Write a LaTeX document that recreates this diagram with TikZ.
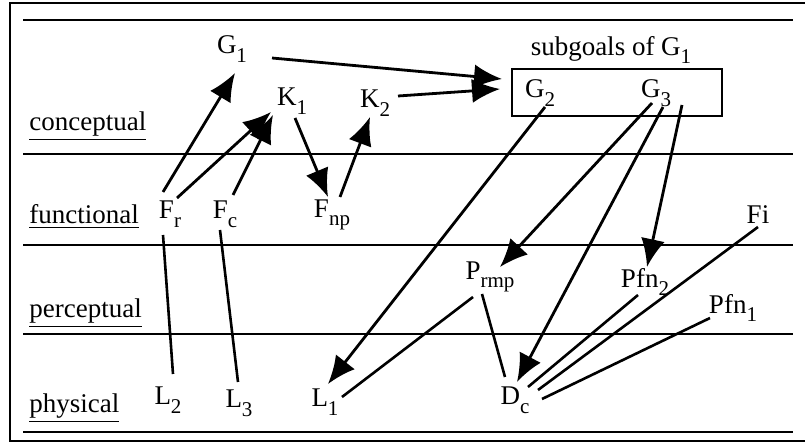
\documentclass[tikz,border=0pt]{standalone}
\usepackage{fontspec}
\setmainfont{Liberation Serif}
\usetikzlibrary{arrows.meta,calc}
\newcommand\sbs[1]{\raisebox{-0.32em}{\fontsize{10.5}{11}\selectfont #1}}
\tikzset{
  lbl/.style={font=\fontsize{13.5}{15}\selectfont, inner sep=0pt},
  lev/.style={font=\fontsize{13.5}{15}\selectfont, inner sep=0pt, anchor=base west},
  rule/.style={line width=1.2pt},
  arr/.style={line width=1.4pt, -{Latex[length=14pt,width=12pt]}},
  ln/.style={line width=1.3pt},
  goalbox/.style={draw, line width=1.3pt, minimum width=105pt, minimum height=23.5pt, inner sep=0pt}
}
\begin{document}
\begin{tikzpicture}[x=0.5pt,y=-0.5pt]
\useasboundingbox (0,0) rectangle (805,444);
% frame
\draw[line width=1.3pt] (806,3) -- (10,3) -- (10,441) -- (806,441);
% level rules
\foreach \yy in {20,154,245,334,432}
  \draw[rule] (23,\yy) -- (793,\yy);
% level labels
\node[lev] (lc) at (29,131) {\underline{conceptual}};
\node[lev] (lf) at (29,224) {\underline{functional}};
\node[lev] (lp) at (29,318) {\underline{perceptual}};
\node[lev] (lh) at (29,413) {\underline{physical}};
% nodes
\node[lbl] (G1) at (232,49) {G\sbs{1}};
\node[lbl] (K1) at (292,101) {K\sbs{1}};
\node[lbl] (K2) at (375,103) {K\sbs{2}};
\node[lbl] (sg) at (611,50) {subgoals of G\sbs{1}};
\node[goalbox] (box) at (617,92.5) {};
\node[lbl] (G2) at (540,93) {G\sbs{2}};
\node[lbl] (G3) at (656,93) {G\sbs{3}};
\node[lbl] (Fr) at (170,214) {F\sbs{r}};
\node[lbl] (Fc) at (225,214) {F\sbs{c}};
\node[lbl] (Fnp) at (332,215) {F\sbs{np}};
\node[lbl] (Fi) at (758,215) {Fi};
\node[lbl] (Prmp) at (490,277) {P\sbs{rmp}};
\node[lbl] (Pfn2) at (645,282) {Pfn\sbs{2}};
\node[lbl] (Pfn1) at (733,308) {Pfn\sbs{1}};
\node[lbl] (Dc) at (515,400) {D\sbs{c}};
\node[lbl] (L1) at (325,402) {L\sbs{1}};
\node[lbl] (L2) at (168,400) {L\sbs{2}};
\node[lbl] (L3) at (239,403) {L\sbs{3}};
% arrows
\draw[arr] ($(Fr)+(-7,-22)$) -- ($(G1)+(3,24)$);
\draw[arr] ($(Fr)+(7,-16)$) -- ($(K1)+(-21,11)$);
\draw[arr] ($(Fc)+(8,-19)$) -- ($(K1)+(-19,14)$);
\draw[arr] ($(K1)+(3,17)$) -- ($(Fnp)+(-4,-18)$);
\draw[arr] ($(Fnp)+(8,-18)$) -- ($(K2)+(-5,14)$);
\draw[arr] ($(G1)+(40,9)$) -- ($(box)+(-115,-13.5)$);
\draw[arr] ($(K2)+(23,-7)$) -- ($(box)+(-117,-3.5)$);
\draw[arr] ($(G2)+(5,14)$) -- ($(L1)+(3,-18)$);
\draw[arr] ($(G3)+(-4,10)$) -- ($(Prmp)+(10,-10)$);
\draw[arr] ($(G3)+(7,14)$) -- ($(Dc)+(2,-18)$);
\draw[arr] ($(G3)+(26,12)$) -- ($(Pfn2)+(2,-15)$);
% plain lines
\draw[ln] ($(Dc)+(13,-13)$) -- ($(Pfn2)+(-7,13)$);
\draw[ln] ($(Dc)+(23,-10)$) -- ($(Fi)+(0,12)$);
\draw[ln] ($(Dc)+(27,-1)$) -- ($(Pfn1)+(-23,10)$);
\draw[ln] ($(Prmp)+(-8,17)$) -- ($(Dc)+(-10,-23)$);
\draw[ln] ($(Prmp)+(-17,20)$) -- ($(L1)+(17,-5)$);
\draw[ln] ($(Fr)+(-7,21)$) -- ($(L2)+(5,-26)$);
\draw[ln] ($(Fc)+(-5,16)$) -- ($(L3)+(-1,-21)$);
\end{tikzpicture}
\end{document}
